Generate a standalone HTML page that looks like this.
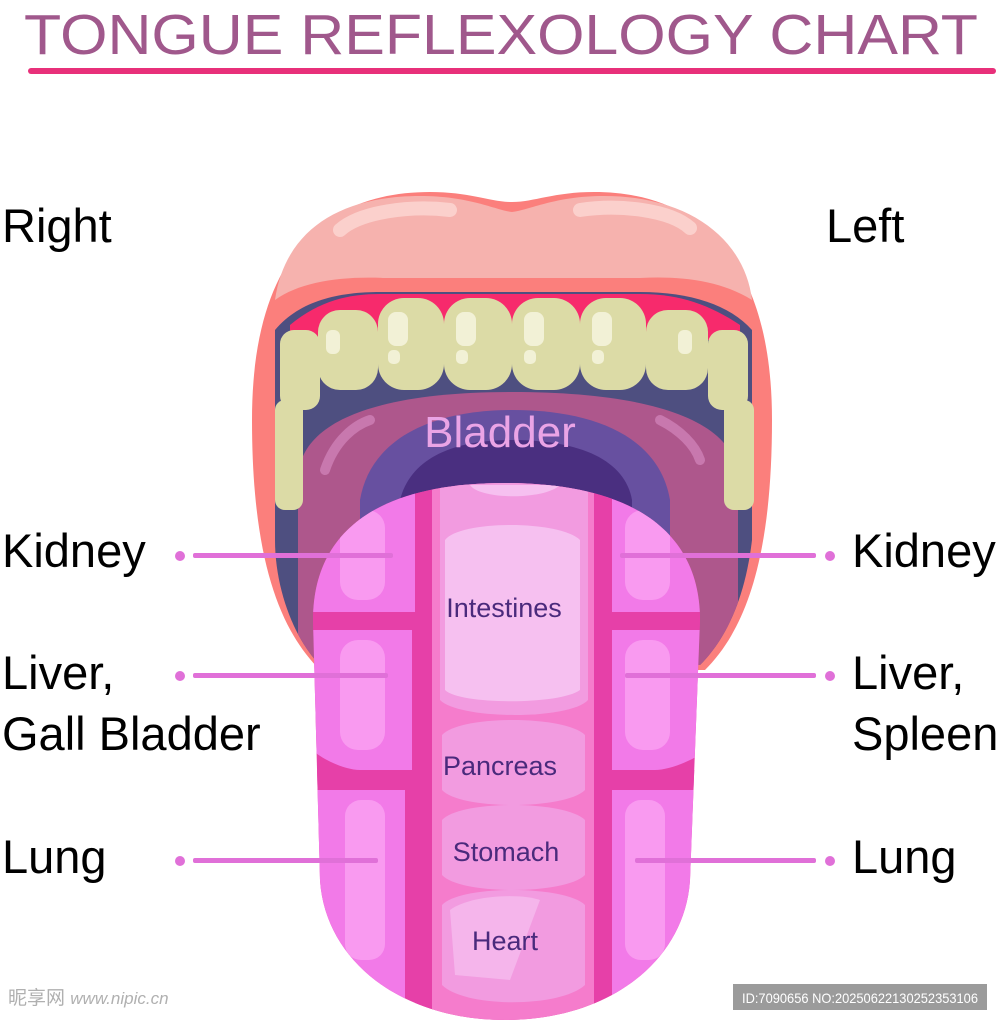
<!DOCTYPE html>
<html><head><meta charset="utf-8"><style>
html,body{margin:0;padding:0;background:#fff;}
svg{display:block;}
</style></head><body>
<svg width="1002" height="1024" viewBox="0 0 1002 1024" xmlns="http://www.w3.org/2000/svg" font-family="Liberation Sans, sans-serif">
<defs>
<clipPath id="tg"><path d="M313 620 C313 530 380 483 505 483 C630 483 700 530 700 620 L690 880 C685 960 610 1020 505 1020 C400 1020 325 960 320 880 Z"/></clipPath>
<clipPath id="mi"><path d="M275 330 C300 300 340 292 380 292 L640 292 C690 292 730 305 752 330 L752 540 C745 600 725 640 700 665 L320 665 C295 640 275 590 275 540 Z"/></clipPath>
</defs>
<rect width="1002" height="1024" fill="#fff"/>
<!-- Title -->
<text x="24" y="54" font-size="57" fill="#a0588c" textLength="954" lengthAdjust="spacingAndGlyphs">TONGUE REFLEXOLOGY CHART</text>
<rect x="28" y="68" width="968" height="6" rx="3" fill="#e8307a"/>

<!-- Mouth outer lips -->
<path d="M252 420 C252 250 330 192 430 192 C470 192 490 202 512 202 C534 202 554 192 594 192 C700 192 772 260 772 420 C772 560 745 630 705 670 L320 670 C280 630 252 560 252 420 Z" fill="#fb7f7c"/>
<path d="M275 300 C285 230 340 196 420 196 C470 196 495 210 512 212 C530 210 555 196 604 196 C690 196 745 240 752 300 C720 280 680 276 640 278 L385 278 C340 276 300 282 275 300 Z" fill="#f6b2ae"/>
<path d="M340 230 C360 212 410 205 450 210" stroke="#fbd0cc" stroke-width="14" stroke-linecap="round" fill="none"/>
<path d="M580 210 C620 204 670 210 690 228" stroke="#fbd0cc" stroke-width="14" stroke-linecap="round" fill="none"/>
<!-- mouth interior -->
<g clip-path="url(#mi)">
<rect x="260" y="280" width="510" height="400" fill="#4e4f80"/>
<path d="M290 325 C320 300 350 294 380 294 L640 294 C680 294 710 305 740 325 L740 340 L290 340 Z" fill="#f72a6c"/>
<path d="M298 480 C298 420 380 392 512 392 C650 392 738 420 738 480 L738 700 L298 700 Z" fill="#ae578c"/>
<path d="M360 500 C370 440 430 410 512 410 C600 410 660 440 670 500 L670 640 L360 640 Z" fill="#6750a0"/>
<path d="M400 500 C410 460 450 440 512 440 C580 440 625 460 632 500 L632 560 L400 560 Z" fill="#4a2f80"/>
<path d="M325 470 C335 440 355 425 370 420" stroke="#c878ae" stroke-width="10" stroke-linecap="round" fill="none"/>
<path d="M660 420 C680 430 695 445 700 460" stroke="#c878ae" stroke-width="10" stroke-linecap="round" fill="none"/>
</g>
<!-- teeth -->
<g fill="#dcdba6">
<rect x="318" y="310" width="60" height="80" rx="22"/>
<rect x="378" y="298" width="66" height="92" rx="26"/>
<rect x="444" y="298" width="68" height="92" rx="26"/>
<rect x="512" y="298" width="68" height="92" rx="26"/>
<rect x="580" y="298" width="66" height="92" rx="26"/>
<rect x="646" y="310" width="62" height="80" rx="22"/>
<rect x="280" y="330" width="40" height="80" rx="14"/>
<rect x="708" y="330" width="40" height="80" rx="14"/>
<rect x="275" y="400" width="28" height="110" rx="10"/>
<rect x="724" y="400" width="30" height="110" rx="10"/>
</g>
<g fill="#f2f1d6">
<rect x="388" y="312" width="20" height="34" rx="8"/><rect x="456" y="312" width="20" height="34" rx="8"/>
<rect x="524" y="312" width="20" height="34" rx="8"/><rect x="592" y="312" width="20" height="34" rx="8"/>
<rect x="326" y="330" width="14" height="24" rx="6"/><rect x="678" y="330" width="14" height="24" rx="6"/>
<rect x="388" y="350" width="12" height="14" rx="5"/><rect x="456" y="350" width="12" height="14" rx="5"/>
<rect x="524" y="350" width="12" height="14" rx="5"/><rect x="592" y="350" width="12" height="14" rx="5"/>
</g>
<text x="500" y="447" font-size="44" fill="#eaa4e6" text-anchor="middle">Bladder</text>

<!-- Tongue -->
<g clip-path="url(#tg)">
<rect x="300" y="470" width="420" height="560" fill="#e640a8"/>
<g fill="#f27ae8">
<path d="M300 480 L415 480 L415 612 L330 612 L300 612 Z"/>
<path d="M300 630 L412 630 L412 770 L360 770 C340 770 300 750 300 730 Z"/>
<path d="M300 790 L405 790 L405 1030 L300 1030 Z"/>
<path d="M720 480 L605 480 L605 612 L720 612 Z"/>
<path d="M720 630 L605 630 L605 770 L655 770 C675 770 720 750 720 730 Z"/>
<path d="M720 790 L612 790 L612 1030 L720 1030 Z"/>
</g>
<rect x="300" y="612" width="115" height="18" fill="#e640a8"/>
<rect x="605" y="612" width="115" height="18" fill="#e640a8"/>
<rect x="300" y="770" width="115" height="20" fill="#e640a8"/>
<rect x="605" y="770" width="115" height="20" fill="#e640a8"/>
<g fill="#f99af0">
<rect x="340" y="510" width="45" height="90" rx="18"/>
<rect x="340" y="640" width="45" height="110" rx="18"/>
<rect x="345" y="800" width="40" height="160" rx="16"/>
<rect x="625" y="510" width="45" height="90" rx="18"/>
<rect x="625" y="640" width="45" height="110" rx="18"/>
<rect x="625" y="800" width="40" height="160" rx="16"/>
</g>
<rect x="415" y="470" width="18" height="560" fill="#e640a8"/>
<rect x="594" y="470" width="18" height="560" fill="#e640a8"/>
<rect x="432" y="470" width="162" height="560" fill="#f57ccc"/>
<path d="M440 480 L588 480 L588 700 C570 720 460 720 440 700 Z" fill="#f29be0"/>
<path d="M470 485 C480 500 545 500 560 485 Z" fill="#f6c0f0"/>
<path d="M445 540 C460 520 560 520 580 540 L580 690 C560 705 460 705 445 690 Z" fill="#f6c0f0"/>
<path d="M442 735 C460 715 565 715 585 735 L585 790 C565 810 460 810 442 790 Z" fill="#f29be0"/>
<path d="M442 820 C460 800 565 800 585 820 L585 875 C565 895 460 895 442 875 Z" fill="#f29be0"/>
<path d="M442 905 C460 885 565 885 585 905 L585 985 C560 1008 465 1008 442 985 Z" fill="#f29be0"/>
<path d="M450 910 C470 895 520 893 540 900 L510 980 L455 975 Z" fill="#f6c0f0" opacity="0.7"/>
</g>
<g font-size="27" fill="#4a2a7c" text-anchor="middle">
<text x="504" y="617">Intestines</text>
<text x="500" y="775">Pancreas</text>
<text x="506" y="861">Stomach</text>
<text x="505" y="950">Heart</text>
</g>

<!-- connectors -->
<g fill="#e070d8">
<circle cx="180" cy="556" r="5"/><rect x="193" y="553" width="200" height="5" rx="2"/>
<circle cx="180" cy="676" r="5"/><rect x="193" y="673" width="195" height="5" rx="2"/>
<circle cx="180" cy="861" r="5"/><rect x="193" y="858" width="185" height="5" rx="2"/>
<circle cx="830" cy="556" r="5"/><rect x="620" y="553" width="196" height="5" rx="2"/>
<circle cx="830" cy="676" r="5"/><rect x="625" y="673" width="191" height="5" rx="2"/>
<circle cx="830" cy="861" r="5"/><rect x="635" y="858" width="181" height="5" rx="2"/>
</g>

<!-- labels -->
<g font-size="47" fill="#000">
<text x="2" y="242">Right</text>
<text x="826" y="242">Left</text>
<text x="2" y="567">Kidney</text>
<text x="852" y="567">Kidney</text>
<text x="2" y="689">Liver,</text>
<text x="2" y="750">Gall Bladder</text>
<text x="852" y="689">Liver,</text>
<text x="852" y="750">Spleen</text>
<text x="2" y="873">Lung</text>
<text x="852" y="873">Lung</text>
</g>

<!-- watermarks -->
<text x="8" y="1004" font-size="19" fill="#b0b0b0" font-family="Liberation Sans, Noto Sans CJK SC, sans-serif">昵享网 <tspan font-style="italic" font-size="17">www.nipic.cn</tspan></text>
<rect x="733" y="984" width="254" height="26" fill="#9b9b9b"/>
<text x="860" y="1003" font-size="14" fill="#fff" text-anchor="middle" textLength="236" lengthAdjust="spacingAndGlyphs">ID:7090656 NO:20250622130252353106</text>
</svg>
</body></html>
